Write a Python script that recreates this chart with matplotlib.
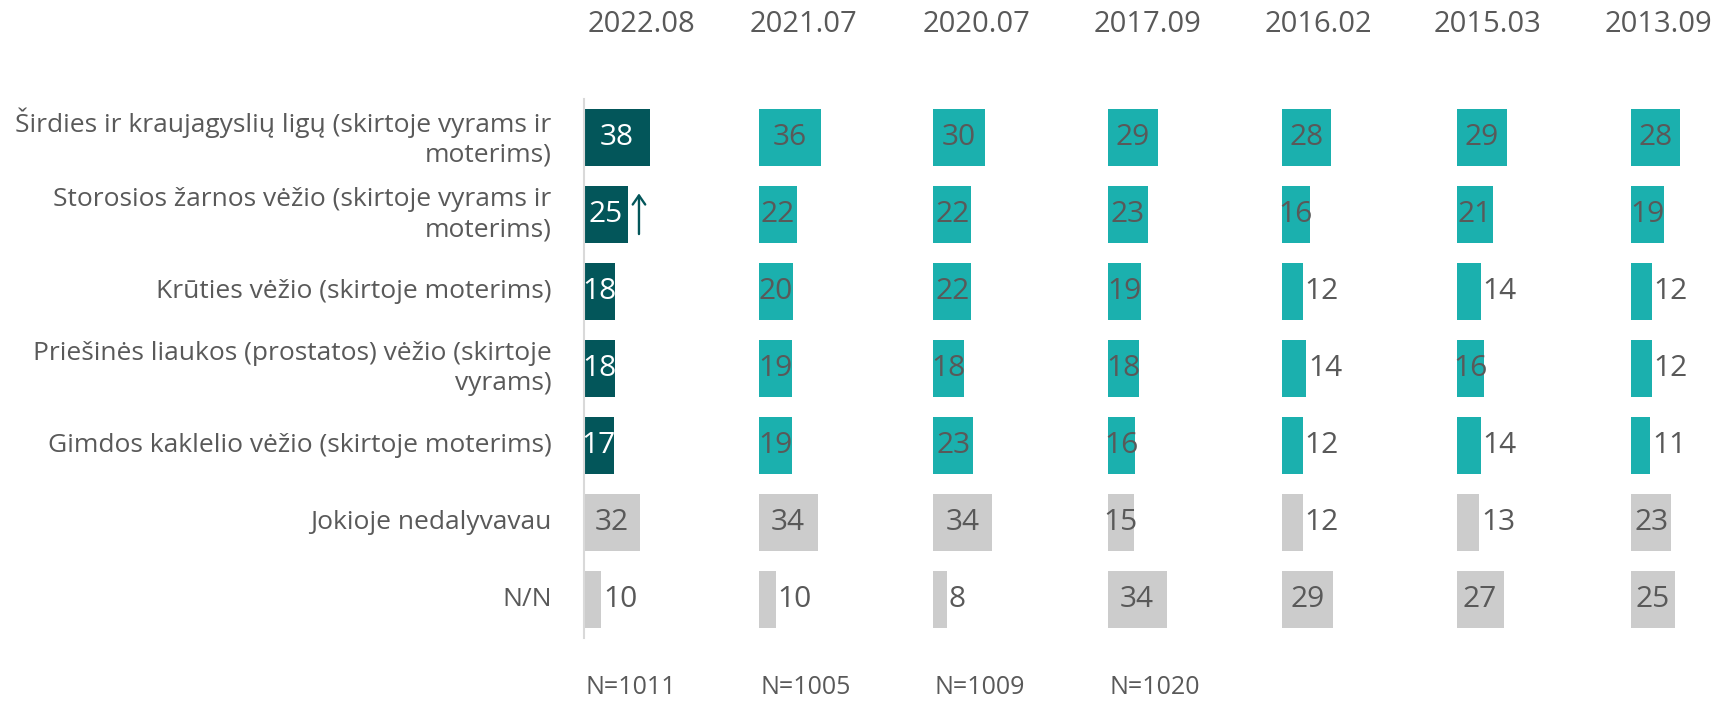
import matplotlib
matplotlib.use("Agg")
import matplotlib.pyplot as plt
from matplotlib.transforms import blended_transform_factory

# ---------------- data ----------------
categories = [
    "Širdies ir kraujagyslių ligų (skirtoje vyrams ir\nmoterims)",
    "Storosios žarnos vėžio (skirtoje vyrams ir\nmoterims)",
    "Krūties vėžio (skirtoje moterims)",
    "Priešinės liaukos (prostatos) vėžio (skirtoje\nvyrams)",
    "Gimdos kaklelio vėžio (skirtoje moterims)",
    "Jokioje nedalyvavau",
    "N/N",
]
waves = ["2022.08", "2021.07", "2020.07", "2017.09", "2016.02", "2015.03", "2013.09"]
v_2022_08 = [38, 25, 18, 18, 17, 32, 10]
v_2021_07 = [36, 22, 20, 19, 19, 34, 10]
v_2020_07 = [30, 22, 22, 18, 23, 34, 8]
v_2017_09 = [29, 23, 19, 18, 16, 15, 34]
v_2016_02 = [28, 16, 12, 14, 12, 12, 29]
v_2015_03 = [29, 21, 14, 16, 14, 13, 27]
v_2013_09 = [28, 19, 12, 12, 11, 23, 25]
series = [v_2022_08, v_2021_07, v_2020_07, v_2017_09, v_2016_02, v_2015_03, v_2013_09]
sample_sizes = ["N=1011", "N=1005", "N=1009", "N=1020"]

# ---------------- style ----------------
DARK = "#03565A"
TEAL = "#1BB0AE"
GREY = "#CCCCCC"
TXT = "#595959"
FONT = ["Open Sans", "DejaVu Sans"]

W, H = 1713, 702
fig = plt.figure(figsize=(W / 100, H / 100), dpi=100)
ax = fig.add_axes([584 / W, 1 - 638 / H, 1 - 584 / W, (638 - 99) / H])

PANEL = 100.0
n_rows = len(categories)
ax.set_xlim(0, (W - 584) / 1.745)
ax.set_ylim(n_rows - 0.5, -0.5)

for p, vals in enumerate(series):
    off = p * PANEL
    for r, v in enumerate(vals):
        if r >= 5:
            col, tcol = GREY, TXT
        elif p == 0:
            col, tcol = DARK, "white"
        else:
            col, tcol = TEAL, TXT
        ax.barh(r, v, left=off, height=0.74, color=col, edgecolor="none")
        if v >= 15:
            ax.text(off + v / 2, r, str(v), ha="center", va="center",
                    fontsize=21.5, color=tcol, family=FONT)
        else:
            ax.text(off + v + 1.0, r, str(v), ha="left", va="center",
                    fontsize=21.5, color=TXT, family=FONT)

# arrow next to the 2022.08 colon cancer bar
ax.annotate("", xy=(v_2022_08[1] + 6.5, 1 - 0.31), xytext=(v_2022_08[1] + 6.5, 1 + 0.29),
            arrowprops=dict(arrowstyle="->,head_length=0.65,head_width=0.45",
                            color=DARK, lw=1.7))

# category labels
for r, c in enumerate(categories):
    ax.text(-18.5, r, c, ha="right", va="center", fontsize=19, color=TXT,
            family=FONT, linespacing=1.28)

# headers
tr = blended_transform_factory(ax.transData, fig.transFigure)
head_off = [33, 26, 25, 23, 21, 18, 16]
for p, w in enumerate(waves):
    ax.text(p * PANEL + head_off[p], 1 - 25 / H, w, transform=tr, ha="center",
            va="center", fontsize=21, color=TXT, family=FONT, clip_on=False)

for p, n in enumerate(sample_sizes):
    ax.text(p * PANEL + 27, 1 - 687 / H, n, transform=tr, ha="center",
            va="center", fontsize=18, color=TXT, family=FONT, clip_on=False)

for s in ["top", "right", "bottom"]:
    ax.spines[s].set_visible(False)
ax.spines["left"].set_color("#D9D9D9")
ax.spines["left"].set_linewidth(1.5)
ax.set_xticks([])
ax.set_yticks([])
ax.patch.set_alpha(0)

fig.savefig("out.png", dpi=100)
